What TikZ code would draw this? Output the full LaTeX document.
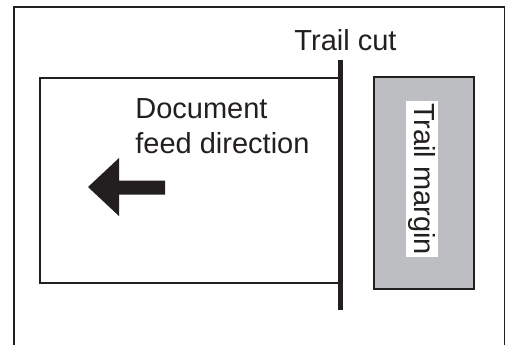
\documentclass[tikz,border=0pt]{standalone}
\usepackage{fontspec}
\setmainfont{Liberation Sans}
\usetikzlibrary{positioning}
\definecolor{margingray}{HTML}{BDBEC1}
\definecolor{inkblack}{HTML}{231F20}

\begin{document}
\begin{tikzpicture}[x=0.5pt,y=-0.5pt,
    label text/.style={font=\fontsize{14.5pt}{17pt}\selectfont, text=inkblack, inner sep=0pt}]
        \useasboundingbox (0,0) rectangle (506,345);
        % Draw the outer frame (open at the bottom)
        \draw[inkblack, line width=0.75pt] (14,345) -- (14,7) -- (504.5,7) -- (504.5,345);
        % Document sheet
        \draw[inkblack, line width=1pt] (340,78) -- (40,78) -- (40,283) -- (340,283);
        % Trail cut line
        \coordinate (cuttop) at (340.5,60);
        \coordinate (cutbot) at (340.5,310);
        \draw[inkblack, line width=2.5pt] (cuttop) -- (cutbot);
        \node[label text, anchor=base] (cut) at (345.5,50) {Trail cut};
        % Trail margin strip
        \draw[inkblack, fill=margingray, line width=1pt] (374,77) rectangle (474,289);
        \node[label text, rotate=-90, fill=white, inner xsep=1pt, inner ysep=1.2pt] (margin) at (422,179) {Trail margin};
        % Feed direction label and arrow
        \node[label text, anchor=base west] (doc) at (135,118) {Document};
        \node[label text, anchor=base west] (feed) at (135,153) {feed direction};
        \fill[inkblack] (88,187) -- (119,158) -- (119,180.5) -- (165,180.5) -- (165,194.5)
            -- (119,194.5) -- (119,216) -- cycle;
\end{tikzpicture}
\end{document}
